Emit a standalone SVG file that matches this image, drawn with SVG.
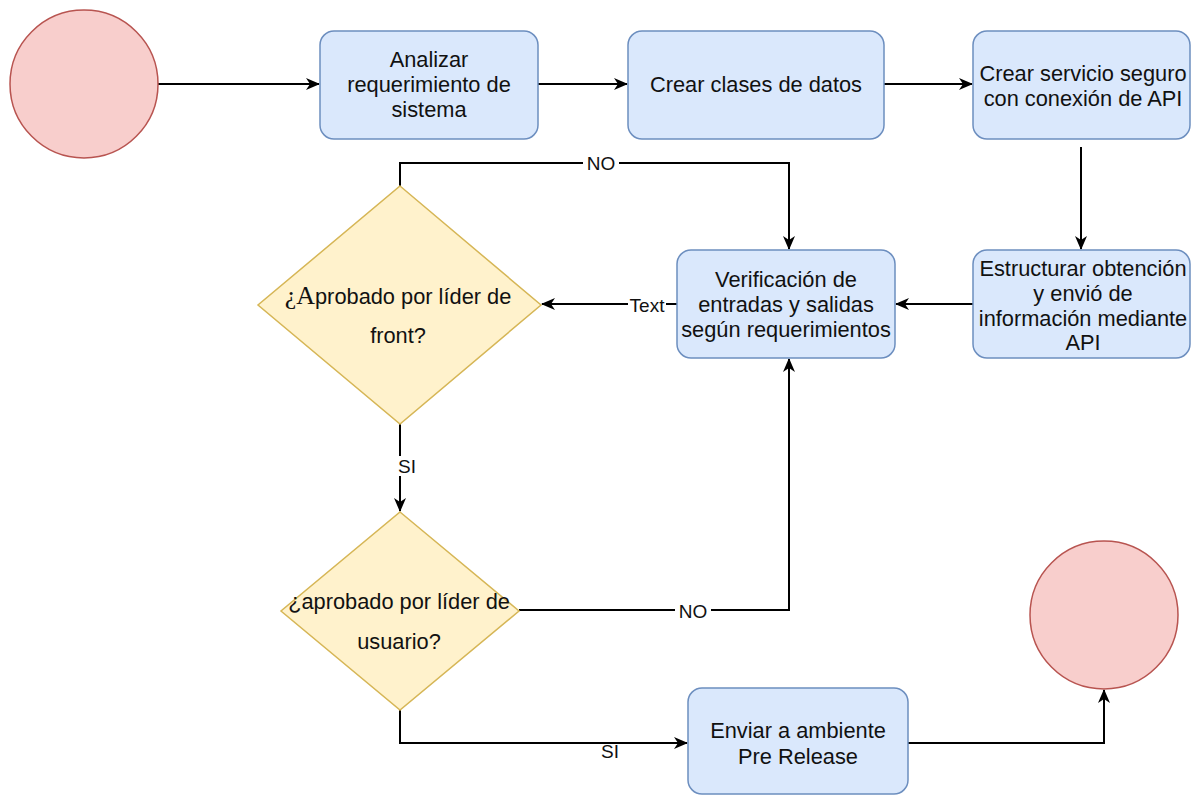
<svg xmlns="http://www.w3.org/2000/svg" width="1198" height="796" viewBox="0 0 1198 796">
<style>
.box{fill:#dae8fc;stroke:#6c8ebf;stroke-width:1.5}
.dec{fill:#fff2cc;stroke:#d6b656;stroke-width:1.5}
.term{fill:#f8cecc;stroke:#b85450;stroke-width:1.5}
.t{font-family:"Liberation Sans",Arial,sans-serif;font-size:21.8px;fill:#111;text-anchor:middle}
.lbl{font-family:"Liberation Sans",Arial,sans-serif;font-size:19px;fill:#111;text-anchor:middle}
.edge{fill:none;stroke:#000;stroke-width:2}
.lblbg{fill:#fff}
</style>
<defs>
<marker id="arr" viewBox="0 0 14 12" refX="13" refY="6" markerWidth="14" markerHeight="12" markerUnits="userSpaceOnUse" orient="auto">
<path d="M0,0 L14,6 L0,12 L4,6 Z" fill="#000"/>
</marker>
</defs>
<rect width="1198" height="796" fill="#fff"/>
<g id="connectors">
<path class="edge" d="M158,84 H319" marker-end="url(#arr)"/>
<path class="edge" d="M538,84 H627" marker-end="url(#arr)"/>
<path class="edge" d="M884,84 H972" marker-end="url(#arr)"/>
<path class="edge" d="M1081,147 V249" marker-end="url(#arr)"/>
<path class="edge" d="M973,304 H896" marker-end="url(#arr)"/>
<path class="edge" d="M677,304 H542" marker-end="url(#arr)"/>
<path class="edge" d="M400,186 V163 H789 V249" marker-end="url(#arr)"/>
<path class="edge" d="M400,424 V511" marker-end="url(#arr)"/>
<path class="edge" d="M519,610 H789 V359" marker-end="url(#arr)"/>
<path class="edge" d="M400,710 V743 H687" marker-end="url(#arr)"/>
<path class="edge" d="M908,743 H1104 V690" marker-end="url(#arr)"/>
<rect class="lblbg" x="628" y="295" width="38" height="20"/>
<text class="lbl" x="647" y="312">Text</text>
<rect class="lblbg" x="583" y="153" width="36" height="20"/>
<text class="lbl" x="601" y="170">NO</text>
<rect class="lblbg" x="395" y="456" width="24" height="20"/>
<text class="lbl" x="407" y="473">SI</text>
<rect class="lblbg" x="675" y="601" width="36" height="20"/>
<text class="lbl" x="693" y="618">NO</text>
<rect class="lblbg" x="598" y="744" width="24" height="16"/>
<text class="lbl" x="610" y="758">SI</text>
</g>
<g id="start"><circle class="term" cx="84" cy="84" r="74"/></g>
<g id="analizar"><rect class="box" x="320" y="31" width="218" height="108" rx="14"/>
<text class="t" x="429" y="67">Analizar</text><text class="t" x="429" y="92">requerimiento de</text><text class="t" x="429" y="117">sistema</text></g>
<g id="clases"><rect class="box" x="628" y="31" width="256" height="108" rx="14"/>
<text class="t" x="756" y="92">Crear clases de datos</text></g>
<g id="servicio"><rect class="box" x="973" y="31" width="217" height="108" rx="14"/>
<text class="t" x="1083" y="81">Crear servicio seguro</text><text class="t" x="1083" y="106">con conexión de API</text></g>
<g id="estructurar"><rect class="box" x="973" y="250" width="217" height="108" rx="14"/>
<text class="t" x="1083" y="276">Estructurar obtención</text><text class="t" x="1083" y="301">y envió de</text><text class="t" x="1083" y="326">información mediante</text><text class="t" x="1083" y="350">API</text></g>
<g id="verificacion"><rect class="box" x="677" y="250" width="218" height="108" rx="14"/>
<text class="t" x="786" y="287">Verificación de</text><text class="t" x="786" y="312">entradas y salidas</text><text class="t" x="786" y="337">según requerimientos</text></g>
<g id="dec-front"><polygon class="dec" points="400,186 541,305 400,424 258,305"/>
<text class="t" x="398" y="304"><tspan font-family="Liberation Serif,serif" font-size="26px">¿A</tspan>probado por líder de</text>
<text class="t" x="398" y="343">front?</text></g>
<g id="dec-usuario"><polygon class="dec" points="400,512 519,611 400,710 281,611"/>
<text class="t" x="399" y="609">¿aprobado por líder de</text>
<text class="t" x="399" y="649">usuario?</text></g>
<g id="enviar"><rect class="box" x="688" y="688" width="220" height="106" rx="14"/>
<text class="t" x="798" y="738">Enviar a ambiente</text><text class="t" x="798" y="764">Pre Release</text></g>
<g id="end"><circle class="term" cx="1104" cy="615" r="74"/></g>
</svg>
